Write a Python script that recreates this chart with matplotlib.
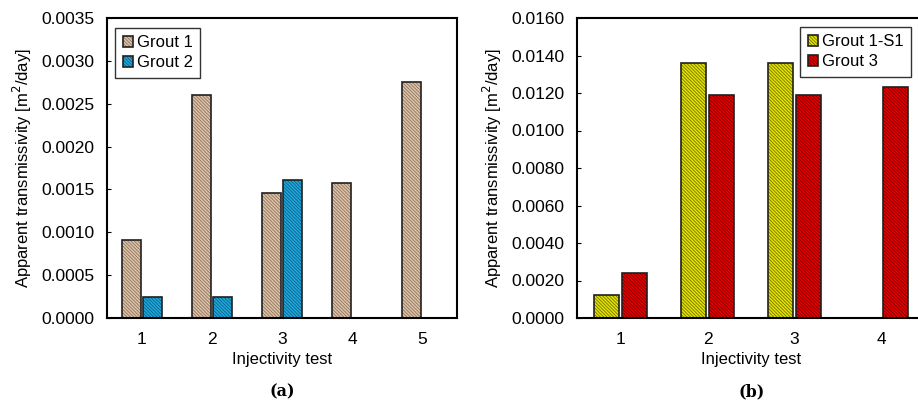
import numpy as np
import matplotlib.pyplot as plt
from matplotlib.legend_handler import HandlerTuple
from matplotlib.ticker import FormatStrFormatter

plt.rcParams['font.family'] = ['Liberation Sans', 'DejaVu Sans']
plt.rcParams['hatch.linewidth'] = 0.55

# data
tests_a = [1, 2, 3, 4, 5]
grout1 = [0.00091, 0.00260, 0.00146, 0.00157, 0.00275]
grout2 = [0.00024, 0.00024, 0.00161, np.nan, np.nan]

tests_b = [1, 2, 3, 4]
grout1_s1 = [0.00125, 0.0136, 0.0136, np.nan]
grout3 = [0.00240, 0.0119, 0.0119, 0.0123]

ylabel = 'Apparent transmissivity [m$^2$/day]'
HATCH = '\\' * 10


def hatched_bars(ax, x, y, width, face, hatch_col):
    # fill + hatch first, then the black outline on top
    b1 = ax.bar(x, y, width, color=face, edgecolor=hatch_col, hatch=HATCH, lw=0)
    b2 = ax.bar(x, y, width, fill=False, edgecolor='#202020', lw=1.2)
    return (b1, b2)


def style(ax):
    for s in ax.spines.values():
        s.set_linewidth(1.5)
    ax.tick_params(axis='y', direction='in', length=3, labelsize=12.5, pad=9)
    ax.tick_params(axis='x', length=0, labelsize=12.5, pad=10)
    ax.set_xlabel('Injectivity test', fontsize=12, labelpad=4)
    ax.set_ylabel(ylabel, fontsize=12, labelpad=5)


def add_legend(ax, handles, labels, anchor):
    ax.legend(handles, labels, handler_map={tuple: HandlerTuple(ndivide=1)},
              loc='upper left', bbox_to_anchor=anchor, borderaxespad=0,
              fontsize=12, fancybox=False, edgecolor='#333333', framealpha=1,
              handlelength=0.65, handleheight=0.65, handletextpad=0.2,
              borderpad=0.45, labelspacing=0.3)


fig = plt.figure(figsize=(9.18, 4.04), dpi=100)

# (a)
ax1 = fig.add_axes([107 / 918, 1 - 318 / 404, 350 / 918, 300 / 404])
xa = np.array(tests_a)
h1 = hatched_bars(ax1, xa - 0.15, grout1, 0.27, '#dcc2a8', '#8a6e58')
h2 = hatched_bars(ax1, xa + 0.15, grout2, 0.27, '#1ea8dc', '#0d5a80')
ax1.set_xlim(0.5, 5.5)
ax1.set_ylim(0, 0.0035)
ax1.set_xticks(tests_a)
ax1.set_yticks(np.arange(0, 0.00351, 0.0005))
ax1.yaxis.set_major_formatter(FormatStrFormatter('%.4f'))
style(ax1)
add_legend(ax1, [h1, h2], ['Grout 1', 'Grout 2'], (0.023, 0.967))
fig.text(282 / 918, 1 - 392 / 404, '(a)', family='DejaVu Serif', weight='bold',
         fontsize=11.5, ha='center', va='center')

# (b) - axes run past the right edge of the figure like in the source
ax2 = fig.add_axes([577 / 918, 1 - 318 / 404, 348 / 918, 300 / 404])
xb = np.array(tests_b)
h3 = hatched_bars(ax2, xb - 0.16, grout1_s1, 0.28, '#e2e200', '#6a6a00')
h4 = hatched_bars(ax2, xb + 0.16, grout3, 0.28, '#e80000', '#6e0000')
ax2.set_xlim(0.5, 4.5)
ax2.set_ylim(0, 0.016)
ax2.set_xticks(tests_b)
ax2.set_yticks(np.arange(0, 0.01601, 0.002))
ax2.yaxis.set_major_formatter(FormatStrFormatter('%.4f'))
style(ax2)
add_legend(ax2, [h3, h4], ['Grout 1-S1', 'Grout 3'], (0.641, 0.97))
fig.text(752 / 918, 1 - 392 / 404, '(b)', family='DejaVu Serif', weight='bold',
         fontsize=11.5, ha='center', va='center')

fig.savefig('out.png', dpi=100)
